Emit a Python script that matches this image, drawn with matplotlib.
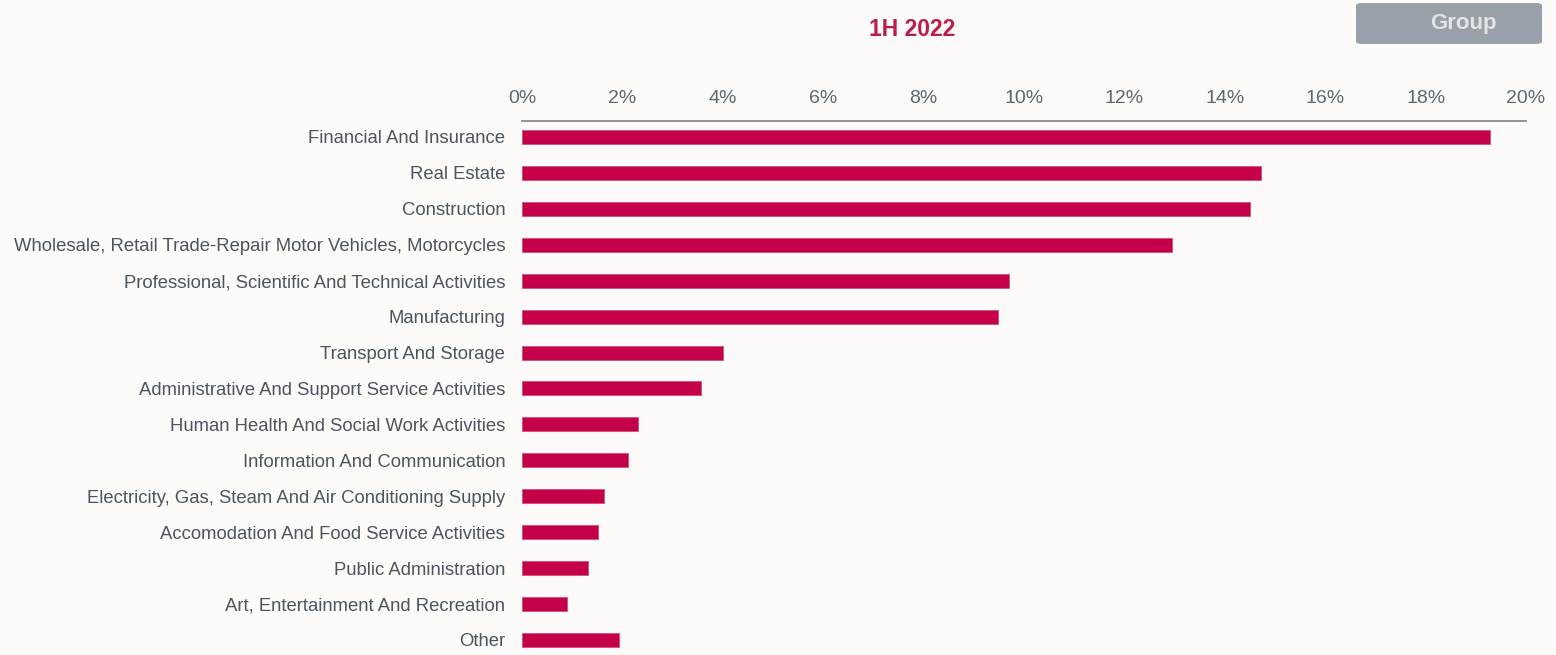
import matplotlib.pyplot as plt
from matplotlib.patches import FancyBboxPatch
from matplotlib.ticker import FuncFormatter

plt.rcParams['font.family'] = ['Liberation Sans', 'DejaVu Sans']

# share of exposure by sector, 1H 2022
sectors = [
    "Financial And Insurance",
    "Real Estate",
    "Construction",
    "Wholesale, Retail Trade-Repair Motor Vehicles, Motorcycles",
    "Professional, Scientific And Technical Activities",
    "Manufacturing",
    "Transport And Storage",
    "Administrative And Support Service Activities",
    "Human Health And Social Work Activities",
    "Information And Communication",
    "Electricity, Gas, Steam And Air Conditioning Supply",
    "Accomodation And Food Service Activities",
    "Public Administration",
    "Art, Entertainment And Recreation",
    "Other",
]
shares = [19.28, 14.72, 14.50, 12.95, 9.70, 9.48, 4.00, 3.57,
          2.31, 2.11, 1.63, 1.51, 1.31, 0.90, 1.93]
x_ticks = [0, 2, 4, 6, 8, 10, 12, 14, 16, 18, 20]

bg = '#fdfafa'
bar_color = '#c4004a'
text_color = '#4b5560'

W, H = 1556, 655
fig = plt.figure(figsize=(W / 100, H / 100), dpi=100, facecolor=bg)
ax = fig.add_axes([522 / W, 0, (1526 - 522) / W, (655 - 121) / H])
ax.set_facecolor(bg)

pos = list(range(len(sectors)))
ax.barh(pos, shares, height=0.39, color=bar_color, edgecolor='#d4507a', linewidth=0.6)
ax.set_ylim(14.42, -0.445)
ax.set_xlim(0, 20)

ax.set_yticks(pos)
ax.set_yticklabels(sectors)
ax.set_xticks(x_ticks)
ax.xaxis.set_major_formatter(FuncFormatter(lambda v, _: f"{v:.0f}%"))
ax.xaxis.tick_top()
ax.tick_params(axis='x', length=0, pad=10, labelsize=14, labelcolor='#5d6772')
ax.tick_params(axis='y', length=0, pad=12, labelsize=13.3, labelcolor=text_color)

for side in ['right', 'bottom', 'left']:
    ax.spines[side].set_visible(False)
ax.spines['top'].set_color('#8a8a8a')
ax.spines['top'].set_linewidth(1.3)

fig.text(912 / W, 1 - 29 / H, "1H 2022", ha='center', va='center',
         fontsize=16.5, fontweight='bold', color='#b81e46')

box = FancyBboxPatch((1356 / W, 1 - 44 / H), (1542 - 1356) / W, 41 / H,
                     boxstyle="round,pad=0,rounding_size=0.004",
                     transform=fig.transFigure, facecolor='#98a0aa',
                     edgecolor='none')
fig.patches.append(box)
fig.text(1463 / W, 1 - 24 / H, "Group", ha='center', va='center',
         fontsize=16, fontweight='bold', color='#e4e4e4')

fig.savefig('out.png', dpi=100, facecolor=bg)
